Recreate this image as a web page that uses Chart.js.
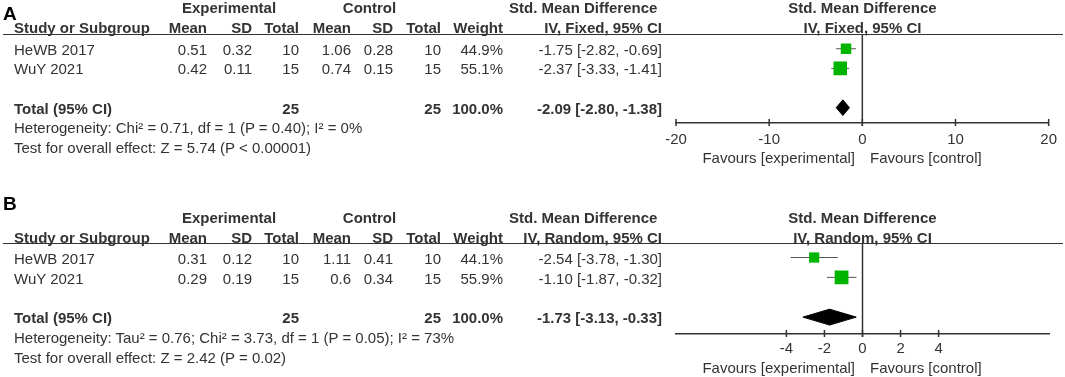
<!DOCTYPE html>
<html><head><meta charset="utf-8">
<script src="https://cdn.jsdelivr.net/npm/chart.js@4.4.0/dist/chart.umd.min.js"></script>
<style>
html,body{margin:0;padding:0;background:#fff;}
#wrap{position:relative;width:1065px;height:377px;overflow:hidden;font-family:"Liberation Sans",Arial,sans-serif;color:#333;background:#fff;}
.t{position:absolute;white-space:nowrap;font-size:15px;line-height:15px;}
.b{font-weight:bold;}
.hl{position:absolute;height:1.5px;background:#333;}
canvas{position:absolute;left:0;}
</style></head><body>
<div id="wrap">
<canvas id="cA" width="1065" height="190" style="top:0px"></canvas>
<canvas id="cB" width="1065" height="187" style="top:190px"></canvas>
</div>
<script>
// ---------- DATA ----------
const studies = ['HeWB 2017', 'WuY 2021'];

// Panel A (IV, Fixed)
const expMeanA = [0.51, 0.42];
const expSdA   = [0.32, 0.11];
const expNA    = [10, 15];
const ctlMeanA = [1.06, 0.74];
const ctlSdA   = [0.28, 0.15];
const ctlNA    = [10, 15];
const weightA  = [44.9, 55.1];
const smdA     = [-1.75, -2.37];
const loA      = [-2.82, -3.33];
const hiA      = [-0.69, -1.41];
const totalA   = [-2.09, -2.80, -1.38]; // estimate, lower, upper
const totalNA  = [25, 25];
const ticksA   = [-20, -10, 0, 10, 20];

// Panel B (IV, Random)
const expMeanB = [0.31, 0.29];
const expSdB   = [0.12, 0.19];
const expNB    = [10, 15];
const ctlMeanB = [1.11, 0.6];
const ctlSdB   = [0.41, 0.34];
const ctlNB    = [10, 15];
const weightB  = [44.1, 55.9];
const smdB     = [-2.54, -1.10];
const loB      = [-3.78, -1.87];
const hiB      = [-1.30, -0.32];
const totalB   = [-1.73, -3.13, -0.33];
const totalNB  = [25, 25];
const ticksB   = [-4, -2, 0, 2, 4];

// ---------- LAYOUT ----------
const wrap = document.getElementById('wrap');
function txt(s, x, y, align, bold, size, color) {
  size = size || 15;
  const d = document.createElement('div');
  d.className = 't' + (bold ? ' b' : '');
  d.textContent = s;
  d.style.fontSize = size + 'px';
  d.style.lineHeight = size + 'px';
  d.style.left = x + 'px';
  d.style.top = (y - size / 2) + 'px';
  if (color) d.style.color = color;
  if (align === 'right') d.style.transform = 'translateX(-100%)';
  else if (align === 'center') d.style.transform = 'translateX(-50%)';
  wrap.appendChild(d);
}
function hline(x, y, w) {
  const d = document.createElement('div');
  d.className = 'hl';
  d.style.left = x + 'px'; d.style.top = (y - 0.75) + 'px'; d.style.width = w + 'px';
  wrap.appendChild(d);
}
const col = {study: 14, eMean: 207, eSd: 252, eN: 299, cMean: 351, cSd: 393, cN: 441, w: 503, ci: 662};
const fmtCI = (e, l, h) => e.toFixed(2) + ' [' + l.toFixed(2) + ', ' + h.toFixed(2) + ']';

const panels = [
  {canvas: 'cA', top: 0, letter: 'A', method: 'IV, Fixed, 95% CI',
   eMean: expMeanA, eSd: expSdA, eN: expNA, cMean: ctlMeanA, cSd: ctlSdA, cN: ctlNA,
   weight: weightA, smd: smdA, lo: loA, hi: hiA, total: totalA, totalN: totalNA, ticks: ticksA,
   het: 'Heterogeneity: Chi\u00b2 = 0.71, df = 1 (P = 0.40); I\u00b2 = 0%',
   test: 'Test for overall effect: Z = 5.74 (P < 0.00001)',
   xmin: -20, xmax: 20, ymin: 0.25, ymax: 4.78, padTop: 34, axisH: 67, tickPad: 8,
   y: {letter: 13, group: 7, head: 27, rows: [49, 68.5], total: 108, het: 127.5, test: 147, line: 34.3, fav: 157}},
  {canvas: 'cB', top: 190, letter: 'B', method: 'IV, Random, 95% CI',
   eMean: expMeanB, eSd: expSdB, eN: expNB, cMean: ctlMeanB, cSd: ctlSdB, cN: ctlNB,
   weight: weightB, smd: smdB, lo: loB, hi: hiB, total: totalB, totalN: totalNB, ticks: ticksB,
   het: 'Heterogeneity: Tau\u00b2 = 0.76; Chi\u00b2 = 3.73, df = 1 (P = 0.05); I\u00b2 = 73%',
   test: 'Test for overall effect: Z = 2.42 (P = 0.02)',
   xmin: -9.8, xmax: 9.8, ymin: 0.27, ymax: 4.85, padTop: 53, axisH: 43, tickPad: 5.5,
   y: {letter: 13, group: 27.5, head: 47.5, rows: [68, 88.5], total: 127.5, het: 147.5, test: 167.5, line: 53.5, fav: 177.5}}
];

Chart.defaults.font.family = '"Liberation Sans", Arial, sans-serif';

const forestDecor = {
  id: 'forestDecor',
  afterDatasetsDraw(chart) {
    const ctx = chart.ctx, xs = chart.scales.x, a = chart.chartArea;
    ctx.save();
    ctx.strokeStyle = '#333';
    ctx.lineWidth = 1.5;
    const x0 = xs.getPixelForValue(0);
    ctx.beginPath(); ctx.moveTo(x0, a.top); ctx.lineTo(x0, a.bottom + 3); ctx.stroke();
    xs.ticks.forEach(t => {
      const x = xs.getPixelForValue(t.value);
      ctx.beginPath(); ctx.moveTo(x, a.bottom - 4); ctx.lineTo(x, a.bottom + 3); ctx.stroke();
    });
    ctx.restore();
  }
};

panels.forEach(p => {
  const T = p.top, Y = p.y;
  // letter
  txt(p.letter, 3, T + Y.letter, 'left', true, 19, '#000');
  // group headers
  txt('Experimental', 229, T + Y.group, 'center', true);
  txt('Control', 369.5, T + Y.group, 'center', true);
  txt('Std. Mean Difference', 509, T + Y.group, 'left', true);
  txt('Std. Mean Difference', 862.5, T + Y.group, 'center', true);
  // column headers
  txt('Study or Subgroup', col.study, T + Y.head, 'left', true);
  txt('Mean', col.eMean, T + Y.head, 'right', true);
  txt('SD', col.eSd, T + Y.head, 'right', true);
  txt('Total', col.eN, T + Y.head, 'right', true);
  txt('Mean', col.cMean, T + Y.head, 'right', true);
  txt('SD', col.cSd, T + Y.head, 'right', true);
  txt('Total', col.cN, T + Y.head, 'right', true);
  txt('Weight', col.w, T + Y.head, 'right', true);
  txt(p.method, col.ci, T + Y.head, 'right', true);
  txt(p.method, 862.5, T + Y.head, 'center', true);
  hline(3, T + Y.line, 1060);
  // study rows
  studies.forEach((s, i) => {
    const yy = T + Y.rows[i];
    txt(s, col.study, yy, 'left');
    txt(String(p.eMean[i]), col.eMean, yy, 'right');
    txt(String(p.eSd[i]), col.eSd, yy, 'right');
    txt(String(p.eN[i]), col.eN, yy, 'right');
    txt(String(p.cMean[i]), col.cMean, yy, 'right');
    txt(String(p.cSd[i]), col.cSd, yy, 'right');
    txt(String(p.cN[i]), col.cN, yy, 'right');
    txt(p.weight[i].toFixed(1) + '%', col.w, yy, 'right');
    txt(fmtCI(p.smd[i], p.lo[i], p.hi[i]), col.ci, yy, 'right');
  });
  // total
  const ty = T + Y.total;
  txt('Total (95% CI)', col.study, ty, 'left', true);
  txt(String(p.totalN[0]), col.eN, ty, 'right', true);
  txt(String(p.totalN[1]), col.cN, ty, 'right', true);
  const wsum = p.weight.reduce((a, b) => a + b, 0);
  txt(wsum.toFixed(1) + '%', col.w, ty, 'right', true);
  txt(fmtCI(p.total[0], p.total[1], p.total[2]), col.ci, ty, 'right', true);
  txt(p.het, col.study, T + Y.het, 'left');
  txt(p.test, col.study, T + Y.test, 'left');
  txt('Favours [experimental]', 855, T + Y.fav, 'right');
  txt('Favours [control]', 870, T + Y.fav, 'left');

  // chart
  const rows = p.smd.map((_, i) => i + 1);
  const totalRow = p.smd.length + 2;
  const datasets = [];
  p.smd.forEach((v, i) => {
    datasets.push({data: [{x: p.lo[i], y: rows[i]}, {x: p.hi[i], y: rows[i]}],
      showLine: true, borderColor: '#555', borderWidth: 1, pointRadius: 0, order: 3});
  });
  datasets.push({data: p.smd.map((v, i) => ({x: v, y: rows[i]})),
    pointStyle: 'rect', pointRadius: p.weight.map(w => (0.3 * w - 3) / (2 * Math.SQRT1_2)),
    backgroundColor: '#00b400', borderWidth: 0, order: 1});
  const dh = 0.4;
  datasets.push({data: [
      {x: p.total[1], y: totalRow}, {x: p.total[0], y: totalRow - dh},
      {x: p.total[2], y: totalRow}, {x: p.total[0], y: totalRow + dh},
      {x: p.total[1], y: totalRow}],
    showLine: true, fill: 'shape', backgroundColor: '#000', borderColor: '#000', borderWidth: 1,
    pointRadius: 0, order: 2});

  new Chart(document.getElementById(p.canvas), {
    type: 'scatter',
    data: {datasets},
    options: {
      responsive: false, animation: false, events: [],
      layout: {padding: {left: 676, right: 16, top: p.padTop, bottom: 0}},
      plugins: {legend: {display: false}, tooltip: {enabled: false}},
      scales: {
        x: {type: 'linear', min: p.xmin, max: p.xmax, position: 'bottom',
          afterBuildTicks: s => { s.ticks = p.ticks.map(v => ({value: v})); },
          afterFit: s => { s.height = p.axisH; },
          grid: {display: false, drawTicks: false},
          border: {display: true, color: '#333', width: 1.5},
          ticks: {color: '#333', font: {size: 15}, padding: p.tickPad, autoSkip: false,
            maxRotation: 0, callback: v => String(v)}},
        y: {type: 'linear', min: p.ymin, max: p.ymax, reverse: true, display: false}
      }
    },
    plugins: [forestDecor]
  });
});
</script>
</body></html>
